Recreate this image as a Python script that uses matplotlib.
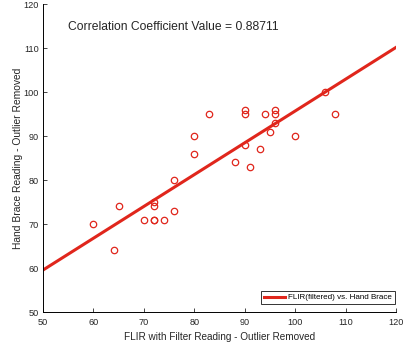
import numpy as np
import matplotlib
matplotlib.use("Agg")
import matplotlib.pyplot as plt

plt.rcParams['font.family'] = ['Liberation Sans', 'DejaVu Sans']

flir = [60, 64, 65, 70, 72, 72, 72, 72, 74, 76, 76, 80, 80, 83, 88, 90, 90, 90, 91, 93, 94, 95, 96, 96, 96, 100, 106, 108]
brace = [70, 64, 74, 71, 71, 71, 74, 75, 71, 73, 80, 90, 86, 95, 84, 96, 95, 88, 83, 87, 95, 91, 96, 95, 93, 90, 100, 95]
corr_text = "Correlation Coefficient Value = 0.88711"
xlabel = "FLIR with Filter Reading - Outlier Removed"
ylabel = "Hand Brace Reading - Outlier Removed"
legend_label = "FLIR(filtered) vs. Hand Brace"
xticks = [50, 60, 70, 80, 90, 100, 110, 120]
yticks = [50, 60, 70, 80, 90, 100, 110, 120]

red = '#e0261c'

fig = plt.figure(figsize=(4.08, 3.48), dpi=100)
ax = fig.add_axes([43/408, 1-312/348, (396-43)/408, (312-4)/348])

ax.plot(flir, brace, 'o', mfc='none', mec=red, ms=4.6, mew=0.9)
p = np.polyfit(flir, brace, 1)
xl = np.array([50, 120])
ax.plot(xl, np.polyval(p, xl), '-', color=red, lw=2.2, label=legend_label)

ax.set_xlim(50, 120)
ax.set_ylim(50, 120)
ax.set_xticks(xticks)
ax.set_yticks(yticks)
ax.spines['top'].set_visible(False)
ax.spines['right'].set_visible(False)
ax.tick_params(direction='in', labelsize=6.6, length=3, width=0.6, colors='#262626')
ax.tick_params(axis='x', pad=4)
ax.tick_params(axis='y', pad=3)
for s in ax.spines.values():
    s.set_linewidth(0.7)
ax.set_xlabel(xlabel, fontsize=7.2, color='#262626', labelpad=4)
ax.set_ylabel(ylabel, fontsize=7.4, color='#262626', labelpad=0.5)
ax.text(55, 114.8, corr_text, fontsize=8.7, va='center', ha='left', color='#262626')
leg = ax.legend(loc='lower right', bbox_to_anchor=(0.997, 0.025), borderaxespad=0,
                fontsize=5.8, handlelength=2.6, frameon=True, fancybox=False,
                borderpad=0.35, handletextpad=0.4)
leg.get_frame().set_edgecolor('black')
leg.get_frame().set_linewidth(0.7)

fig.savefig('out.png', dpi=100)
